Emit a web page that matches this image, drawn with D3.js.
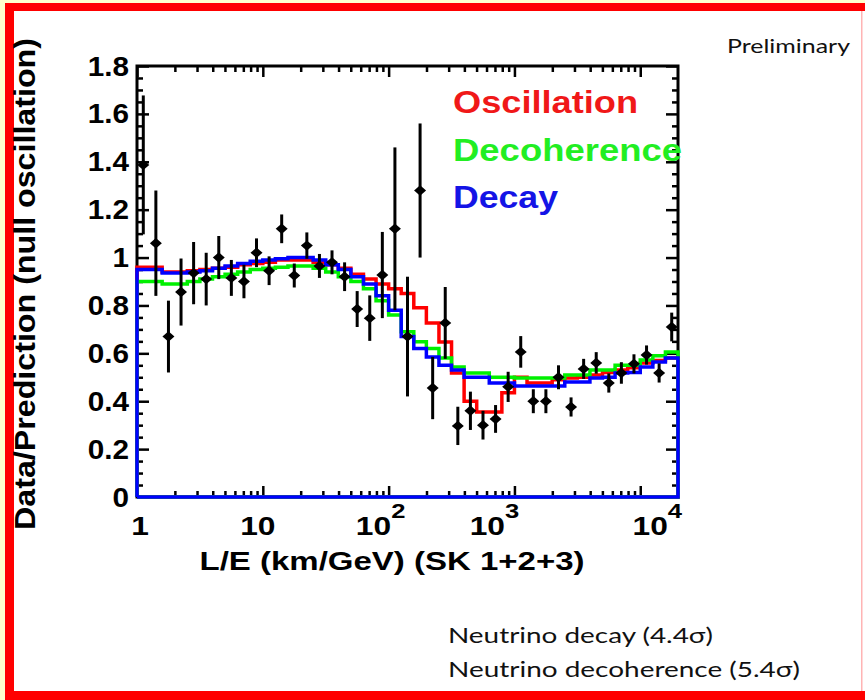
<!DOCTYPE html>
<html>
<head>
<meta charset="utf-8">
<script src="https://cdn.jsdelivr.net/npm/d3@7"></script>
<style>
  body { margin: 0; background: #fff; }
  svg { display: block; }
</style>
</head>
<body>
<svg id="chart" width="865" height="700"></svg>
<script>
// Super-K atmospheric neutrino L/E analysis (SK 1+2+3):
// data / null-oscillation prediction in 43 bins of 0.1 in log10(L/E).
const binLogEdges = d3.range(44).map(i => i / 10);

const dataRatio = [
  1.387, 1.06, 0.67, 0.856, 0.935, 0.91, 1.0, 0.915, 0.90, 1.02,
  0.945, 1.12, 0.925, 1.05, 0.965, 0.98, 0.92, 0.785, 0.747, 0.927,
  1.12, 0.67, 1.28, 0.455, 0.727, 0.297, 0.36, 0.30, 0.326, 0.46,
  0.606, 0.40, 0.40, 0.50, 0.376, 0.535, 0.56, 0.476, 0.518, 0.556,
  0.593, 0.518, 0.71
];
const dataErr = [
  0.29, 0.22, 0.15, 0.14, 0.13, 0.11, 0.09, 0.075, 0.07, 0.06,
  0.06, 0.06, 0.05, 0.055, 0.05, 0.05, 0.06, 0.075, 0.095, 0.18,
  0.34, 0.25, 0.28, 0.13, 0.15, 0.08, 0.08, 0.06, 0.058, 0.063,
  0.066, 0.05, 0.05, 0.05, 0.04, 0.042, 0.045, 0.04, 0.045, 0.04,
  0.04, 0.04, 0.06
];

// Best-fit expectations for each hypothesis, per bin
const oscillation = [
  0.96, 0.96, 0.94, 0.94, 0.945, 0.95, 0.955, 0.96, 0.97, 0.975,
  0.98, 0.99, 0.99, 0.99, 0.98, 0.97, 0.955, 0.93, 0.91, 0.89,
  0.87, 0.85, 0.79, 0.727, 0.647, 0.518, 0.40, 0.355, 0.355, 0.435,
  0.50, 0.476, 0.476, 0.49, 0.497, 0.50, 0.51, 0.52, 0.53, 0.54,
  0.56, 0.57, 0.58
];
const decoherence = [
  0.90, 0.90, 0.89, 0.89, 0.90, 0.91, 0.92, 0.93, 0.94, 0.95,
  0.955, 0.96, 0.965, 0.965, 0.955, 0.94, 0.92, 0.90, 0.87, 0.82,
  0.76, 0.69, 0.648, 0.62, 0.58, 0.543, 0.518, 0.518, 0.50, 0.50,
  0.497, 0.497, 0.497, 0.497, 0.51, 0.51, 0.53, 0.53, 0.55, 0.55,
  0.572, 0.59, 0.606
];
const decay = [
  0.95, 0.95, 0.935, 0.935, 0.94, 0.945, 0.955, 0.965, 0.975, 0.985,
  0.99, 0.995, 1.0, 1.0, 0.99, 0.97, 0.95, 0.92, 0.89, 0.84,
  0.78, 0.67, 0.62, 0.585, 0.55, 0.53, 0.50, 0.50, 0.476, 0.476,
  0.464, 0.464, 0.464, 0.464, 0.48, 0.48, 0.497, 0.50, 0.518, 0.52,
  0.543, 0.564, 0.58
];

const xMajorTicks = [1, 10, 100, 1000, 10000];
const xTickBase = ["1", "10", "10", "10", "10"];
const xTickExp = ["", "", "2", "3", "4"];
const xTickShift = [3, -5, -8, -20, 17];
const yMajorTicks = [0, 0.2, 0.4, 0.6, 0.8, 1.0, 1.2, 1.4, 1.6, 1.8];
const yTickLabels = ["0", "0.2", "0.4", "0.6", "0.8", "1", "1.2", "1.4", "1.6", "1.8"];

const seriesNames = ["Oscillation", "Decoherence", "Decay"];
const seriesColors = ["#ff0000", "#00f000", "#0000ff"];
const legendColors = ["#f01818", "#22ee22", "#1414e6"];
const notes = ["Neutrino decay (4.4\u03c3)", "Neutrino decoherence (5.4\u03c3)"];

const W = 865, H = 700;
const plot = { left: 137, right: 678, top: 66, bottom: 497 };

const svg = d3.select("#chart");

// ---- slide frame ----
svg.append("rect").attr("width", W).attr("height", H).attr("fill", "#ffffff");
svg.append("rect").attr("x", 0).attr("y", 0).attr("width", 5).attr("height", H).attr("fill", "#ffffcc");
svg.append("rect").attr("x", 0).attr("y", 0).attr("width", W).attr("height", 3).attr("fill", "#ffffcc");
svg.append("rect").attr("x", 5).attr("y", 3).attr("width", 9).attr("height", H - 3).attr("fill", "#ff0000");
svg.append("rect").attr("x", 5).attr("y", 3).attr("width", W - 5).attr("height", 8).attr("fill", "#ff0000");
svg.append("rect").attr("x", 5).attr("y", 691).attr("width", W - 5).attr("height", 9).attr("fill", "#ff0000");
svg.append("rect").attr("x", 861).attr("y", 11).attr("width", 1.5).attr("height", 680).attr("fill", "#ffb4b4");

// ---- scales ----
const x = d3.scaleLog().domain([1, Math.pow(10, 4.3)]).range([plot.left, plot.right]);
const y = d3.scaleLinear().domain([0, 1.8]).range([plot.bottom, plot.top]);

// ---- axes (ticks on all four sides, pointing inward) ----
const axesG = svg.append("g");
const xMinor = x.ticks().filter(v => !xMajorTicks.includes(v));
const yMinor = d3.range(0, 1.8001, 0.05).map(v => +v.toFixed(2))
  .filter(v => !yMajorTicks.some(m => Math.abs(m - v) < 1e-6));

function styleAxis(g) {
  g.select(".domain").remove();
  g.selectAll("text").remove();
  g.selectAll("line").attr("stroke", "#000").attr("stroke-width", 2.5);
}
axesG.append("g").attr("transform", `translate(0,${plot.bottom})`)
  .call(d3.axisBottom(x).tickValues(xMajorTicks).tickSize(-11)).call(styleAxis);
axesG.append("g").attr("transform", `translate(0,${plot.bottom})`)
  .call(d3.axisBottom(x).tickValues(xMinor).tickSize(-6)).call(styleAxis);
axesG.append("g").attr("transform", `translate(0,${plot.top})`)
  .call(d3.axisTop(x).tickValues(xMajorTicks).tickSize(-11)).call(styleAxis);
axesG.append("g").attr("transform", `translate(0,${plot.top})`)
  .call(d3.axisTop(x).tickValues(xMinor).tickSize(-6)).call(styleAxis);
axesG.append("g").attr("transform", `translate(${plot.left},0)`)
  .call(d3.axisLeft(y).tickValues(yMajorTicks).tickSize(-12)).call(styleAxis);
axesG.append("g").attr("transform", `translate(${plot.left},0)`)
  .call(d3.axisLeft(y).tickValues(yMinor).tickSize(-6)).call(styleAxis);
axesG.append("g").attr("transform", `translate(${plot.right},0)`)
  .call(d3.axisRight(y).tickValues(yMajorTicks).tickSize(-12)).call(styleAxis);
axesG.append("g").attr("transform", `translate(${plot.right},0)`)
  .call(d3.axisRight(y).tickValues(yMinor).tickSize(-6)).call(styleAxis);

axesG.append("rect")
  .attr("x", plot.left).attr("y", plot.top)
  .attr("width", plot.right - plot.left).attr("height", plot.bottom - plot.top)
  .attr("fill", "none").attr("stroke", "#000").attr("stroke-width", 3);

// ---- histograms ----
const edgesX = binLogEdges.map(l => x(Math.pow(10, l)));
function histPoints(vals) {
  const pts = [[edgesX[0], y(0)]];
  vals.forEach((v, i) => {
    pts.push([edgesX[i], y(v)]);
    pts.push([edgesX[i + 1], y(v)]);
  });
  pts.push([edgesX[edgesX.length - 1], y(0)]);
  pts.push([edgesX[0], y(0)]);
  return pts;
}
const line = d3.line();
[oscillation, decoherence, decay].forEach((vals, k) => {
  svg.append("path")
    .attr("d", line(histPoints(vals)))
    .attr("fill", "none")
    .attr("stroke", seriesColors[k])
    .attr("stroke-width", 3.5)
    .attr("stroke-linejoin", "miter");
});

// ---- data points with error bars ----
const wideDiamond = {
  draw(ctx, size) {
    const hw = Math.sqrt(size) * 0.6, hh = Math.sqrt(size) * 0.52;
    ctx.moveTo(-hw, 0); ctx.lineTo(0, -hh); ctx.lineTo(hw, 0); ctx.lineTo(0, hh); ctx.closePath();
  }
};
const ptsG = svg.append("g");
dataRatio.forEach((v, i) => {
  const cx = x(Math.pow(10, (binLogEdges[i] + binLogEdges[i + 1]) / 2));
  ptsG.append("line")
    .attr("x1", cx).attr("x2", cx)
    .attr("y1", y(v - dataErr[i])).attr("y2", y(Math.min(1.8, v + dataErr[i])))
    .attr("stroke", "#000").attr("stroke-width", 3);
  ptsG.append("path")
    .attr("transform", `translate(${cx},${y(v)})`)
    .attr("d", d3.symbol().type(wideDiamond).size(100)())
    .attr("fill", "#000");
});

// ---- tick labels ----
const labelFont = "'Liberation Sans', Arial, Helvetica, sans-serif";
const yLab = svg.append("g").attr("font-family", labelFont).attr("font-weight", "bold")
  .attr("font-size", 27).attr("fill", "#000");
yMajorTicks.forEach((t, i) => {
  yLab.append("text")
    .attr("transform", `translate(129,${y(t) + 9.5}) scale(1.1,1)`)
    .attr("text-anchor", "end")
    .text(yTickLabels[i]);
});

const xLab = svg.append("g").attr("font-family", labelFont).attr("font-weight", "bold")
  .attr("fill", "#000");
xMajorTicks.forEach((t, i) => {
  const tx = xLab.append("text")
    .attr("transform", `translate(${x(t) + xTickShift[i]},535) scale(1.22,1)`)
    .attr("text-anchor", "middle")
    .attr("font-size", 26);
  tx.append("tspan").text(xTickBase[i]);
  if (xTickExp[i]) {
    tx.append("tspan").attr("font-size", 21).attr("dy", -17).text(xTickExp[i]);
  }
});

// ---- axis titles ----
svg.append("text")
  .attr("x", 392).attr("y", 570)
  .attr("text-anchor", "middle")
  .attr("font-family", labelFont).attr("font-weight", "bold").attr("font-size", 25)
  .attr("textLength", 385).attr("lengthAdjust", "spacingAndGlyphs")
  .text("L/E (km/GeV) (SK 1+2+3)");

svg.append("text")
  .attr("transform", "translate(35,284) rotate(-90)")
  .attr("text-anchor", "middle")
  .attr("font-family", labelFont).attr("font-weight", "bold").attr("font-size", 30)
  .attr("textLength", 492).attr("lengthAdjust", "spacingAndGlyphs")
  .text("Data/Prediction (null oscillation)");

// ---- legend ----
const legendWidths = [185, 229, 105];
const legendBaselines = [113, 161, 208];
seriesNames.forEach((name, k) => {
  svg.append("text")
    .attr("x", 453).attr("y", legendBaselines[k])
    .attr("font-family", labelFont).attr("font-weight", "bold").attr("font-size", 31)
    .attr("fill", legendColors[k])
    .attr("textLength", legendWidths[k]).attr("lengthAdjust", "spacingAndGlyphs")
    .text(name);
});

// ---- slide annotations ----
const noteFont = "Lato, 'Open Sans', 'Noto Sans', sans-serif";
svg.append("text")
  .attr("x", 727).attr("y", 53)
  .attr("font-family", noteFont).attr("font-size", 19).attr("fill", "#111")
  .attr("textLength", 123).attr("lengthAdjust", "spacingAndGlyphs")
  .text("Preliminary");

const noteWidths = [265, 352];
const noteBaselines = [643, 677];
notes.forEach((t, i) => {
  svg.append("text")
    .attr("x", 448).attr("y", noteBaselines[i])
    .attr("font-family", noteFont).attr("font-size", 22).attr("fill", "#111")
    .attr("textLength", noteWidths[i]).attr("lengthAdjust", "spacingAndGlyphs")
    .text(t);
});
</script>
</body>
</html>
